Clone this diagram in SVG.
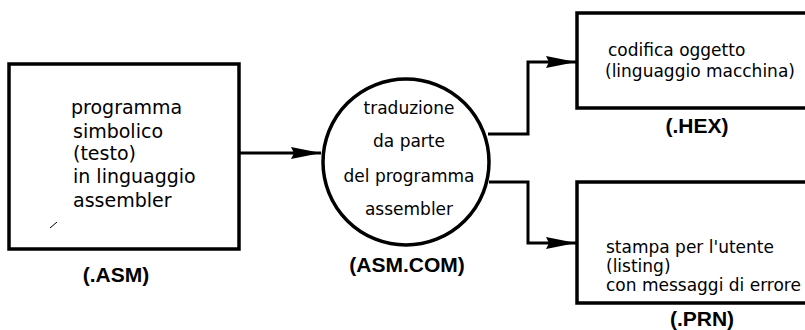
<svg xmlns="http://www.w3.org/2000/svg" width="805" height="330" viewBox="0 0 805 330">
  <style>
    .box { fill: #fff; stroke: #000; stroke-width: 3.5; }
    .wire { fill: none; stroke: #000; stroke-width: 3; }
    .body { font-family: "DejaVu Sans", "Liberation Sans", sans-serif; font-size: 17px; fill: #000; }
    .big { font-size: 19px; }
    .tag { font-family: "Liberation Sans", Arial, sans-serif; font-size: 21px; font-weight: bold; fill: #000; text-anchor: middle; }
  </style>
  <defs>
    <marker id="head" markerUnits="userSpaceOnUse" markerWidth="32" markerHeight="14" refX="30" refY="7" orient="auto">
      <polygon points="0,1 30,7 0,13 3,7" fill="#000"/>
    </marker>
  </defs>
  <rect width="805" height="330" fill="#fff"/>

  <g id="source">
    <rect class="box" x="9" y="64" width="230" height="185"/>
    <text class="body big" x="71" y="114">programma</text>
    <text class="body big" x="73" y="138">simbolico</text>
    <text class="body big" x="73" y="160">(testo)</text>
    <text class="body big" x="73" y="183">in linguaggio</text>
    <text class="body big" x="73" y="207">assembler</text>
    <line x1="50" y1="228" x2="57" y2="222" stroke="#000" stroke-width="1"/>
    <text class="tag" x="116" y="282">(.ASM)</text>
  </g>

  <g id="assembler">
    <circle class="box" cx="406" cy="162" r="83"/>
    <text class="body" x="409" y="114" text-anchor="middle">traduzione</text>
    <text class="body" x="409" y="147" text-anchor="middle">da parte</text>
    <text class="body" x="409" y="182" text-anchor="middle">del programma</text>
    <text class="body" x="409" y="215" text-anchor="middle">assembler</text>
    <text class="tag" x="407" y="272">(ASM.COM)</text>
  </g>

  <g id="hex">
    <rect class="box" x="577" y="13" width="240" height="95"/>
    <text class="body" x="608" y="56">codifica oggetto</text>
    <text class="body" x="605" y="77">(linguaggio macchina)</text>
    <text class="tag" x="697" y="133">(.HEX)</text>
  </g>

  <g id="prn">
    <rect class="box" x="577" y="182" width="240" height="121"/>
    <text class="body" x="606" y="253" font-size="17.3">stampa per l'utente</text>
    <text class="body" x="606" y="272" font-size="17.3">(listing)</text>
    <text class="body" x="606" y="291" font-size="17.3">con messaggi di errore</text>
    <text class="tag" x="702" y="326">(.PRN)</text>
  </g>

  <g id="connectors">
    <path class="wire" d="M240,153 H321" marker-end="url(#head)"/>
    <path class="wire" d="M488,134 H528 V62 H576" marker-end="url(#head)"/>
    <path class="wire" d="M489,182 H528 V243 H576" marker-end="url(#head)"/>
  </g>
</svg>
